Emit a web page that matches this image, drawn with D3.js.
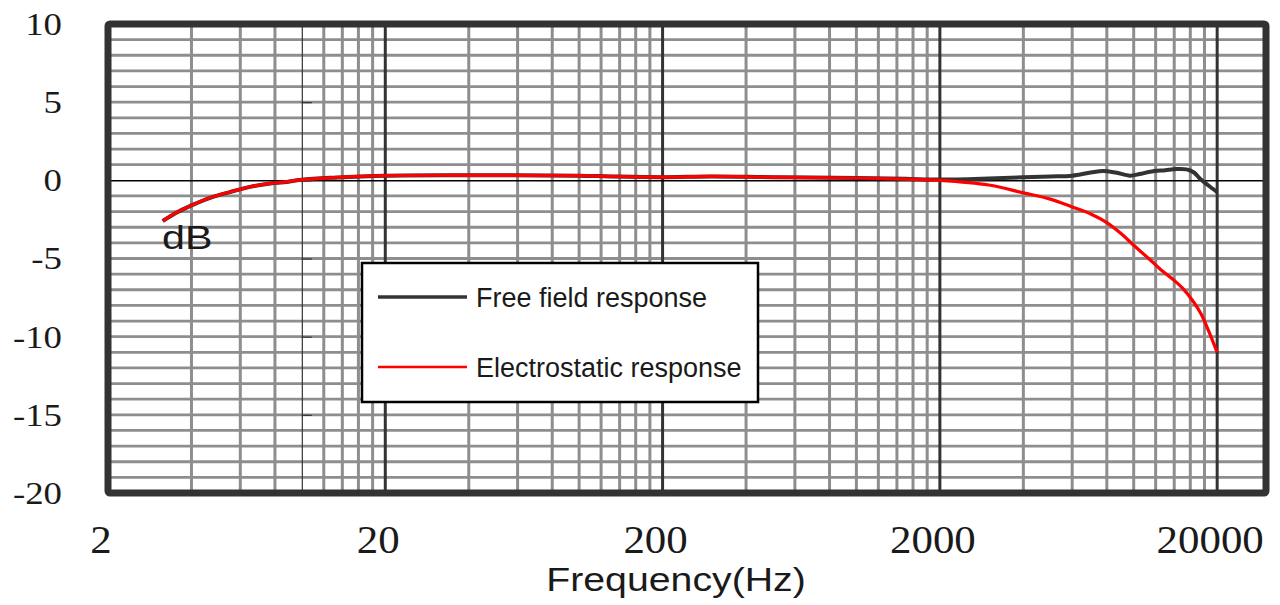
<!DOCTYPE html>
<html>
<head>
<meta charset="utf-8">
<script src="https://cdn.jsdelivr.net/npm/d3@7"></script>
<style>
  body { margin: 0; background: #fff; }
</style>
</head>
<body>
<div id="chart"></div>
<script>
// Values (frequency in Hz, level in dB)
const elecFreq = [3.15, 3.5, 4, 4.7, 5.5, 6.5, 7.7, 8.6, 10, 13, 20, 50, 100, 130, 200, 300, 500, 1000, 1500, 2000,
    3000, 4000, 5000, 6000, 7000, 8000, 9000, 10000, 11400, 12500, 14000, 15000, 16400, 17500, 18400, 20000];
const elecDb = [-2.6, -2.1, -1.6, -1.1, -0.75, -0.42, -0.2, -0.12, 0.04, 0.17, 0.3, 0.32, 0.3, 0.25, 0.2, 0.25, 0.2, 0.15, 0.08, 0,
    -0.3, -0.8, -1.2, -1.7, -2.15, -2.7, -3.4, -4.15, -5.05, -5.7, -6.4, -6.9, -7.75, -8.55, -9.4, -11.0];

const freeFreq = [3.15, 3.5, 4, 4.7, 5.5, 6.5, 7.7, 8.6, 10, 13, 20, 50, 100, 130, 200, 300, 500, 1000, 1500, 2000,
    3000, 4000, 5000, 6000, 7000, 7750, 8600, 9700, 10500, 11450, 13000, 14300, 15500, 16500, 17350, 18500, 20000];
const freeDb = [-2.6, -2.1, -1.6, -1.1, -0.75, -0.42, -0.2, -0.12, 0.04, 0.17, 0.3, 0.32, 0.3, 0.25, 0.2, 0.25, 0.2, 0.15, 0.1, 0.05,
    0.12, 0.2, 0.25, 0.3, 0.5, 0.6, 0.5, 0.3, 0.4, 0.55, 0.65, 0.72, 0.7, 0.5, 0.1, -0.3, -0.75];

const seriesNames = ["Free field response", "Electrostatic response"];
const seriesColors = ["#333333", "#ff0000"];
const xTicks = [2, 20, 200, 2000, 20000];
const yTicks = [10, 5, 0, -5, -10, -15, -20];
const decades = [2, 20, 200, 2000];

const width = 1280, height = 605;
const plot = {left: 108, right: 1266, top: 24, bottom: 493};

const svg = d3.select("#chart")
    .append("svg")
    .attr("width", width)
    .attr("height", height);

const x = d3.scaleLog().domain([2, 30000]).range([plot.left, plot.right]);
const y = d3.scaleLinear().domain([-20, 10]).range([plot.bottom, plot.top]);

// grey grid, 1 dB steps
const hGrid = d3.range(-19, 10).filter((d) => d !== 0);
svg.append("g")
    .selectAll("line")
    .data(hGrid)
    .join("line")
    .attr("x1", plot.left)
    .attr("x2", plot.right)
    .attr("y1", (d) => y(d))
    .attr("y2", (d) => y(d))
    .attr("stroke", "#8e8e8e")
    .attr("stroke-width", 2.8);

// minor verticals: 2*10^k * m
let vGrid = [];
decades.forEach((d) => {
    for (let m = 2; m <= 9; m++) vGrid.push(d * m);
});
vGrid = vGrid.filter((f) => f !== 10);
svg.append("g")
    .selectAll("line")
    .data(vGrid)
    .join("line")
    .attr("x1", (d) => x(d))
    .attr("x2", (d) => x(d))
    .attr("y1", plot.top)
    .attr("y2", plot.bottom)
    .attr("stroke", "#8e8e8e")
    .attr("stroke-width", 3);

// dark decade lines
svg.append("g")
    .selectAll("line")
    .data(xTicks.slice(1))
    .join("line")
    .attr("x1", (d) => x(d))
    .attr("x2", (d) => x(d))
    .attr("y1", plot.top)
    .attr("y2", plot.bottom)
    .attr("stroke", "#333")
    .attr("stroke-width", 3);

// thin axis line sitting at 10 Hz
svg.append("g")
    .attr("transform", `translate(${x(10)},0)`)
    .call(d3.axisRight(y).tickValues(yTicks).tickSize(10).tickFormat(""))
    .call((g) => g.selectAll("path, line").attr("stroke", "#333").attr("stroke-width", 1.2));

// zero line
svg.append("g")
    .attr("transform", `translate(0,${y(0)})`)
    .call(d3.axisBottom(x).tickValues([2]).tickSize(10).tickSizeOuter(0).tickFormat(""))
    .call((g) => g.selectAll("path, line").attr("stroke", "#000").attr("stroke-width", 1.5));

// curves
const line = d3.line()
    .x((d) => x(d[0]))
    .y((d) => y(d[1]))
    .curve(d3.curveCatmullRom);

const series = [
    d3.zip(freeFreq, freeDb),
    d3.zip(elecFreq, elecDb),
];

svg.append("path")
    .datum(series[0])
    .attr("d", line)
    .attr("fill", "none")
    .attr("stroke", seriesColors[0])
    .attr("stroke-width", 4);

svg.append("path")
    .datum(series[1])
    .attr("d", line)
    .attr("fill", "none")
    .attr("stroke", seriesColors[1])
    .attr("stroke-width", 3.2);

// frame
svg.append("rect")
    .attr("x", plot.left)
    .attr("y", plot.top)
    .attr("width", plot.right - plot.left)
    .attr("height", plot.bottom - plot.top)
    .attr("rx", 2)
    .attr("fill", "none")
    .attr("stroke", "#333")
    .attr("stroke-width", 7);

// y labels
svg.append("g")
    .selectAll("text")
    .data(yTicks)
    .join("text")
    .attr("transform", (d) => `translate(62,${y(d)}) scale(1.15,1)`)
    .attr("dy", "0.34em")
    .attr("text-anchor", "end")
    .style("font-family", "'Liberation Serif', 'Times New Roman', serif")
    .style("font-size", "32px")
    .attr("fill", "#1a1a1a")
    .text((d) => d);

// x labels
svg.append("g")
    .selectAll("text")
    .data(xTicks)
    .join("text")
    .attr("transform", (d) => `translate(${x(d) - 7},553) scale(1.1,1)`)
    .attr("text-anchor", "middle")
    .style("font-family", "'Liberation Serif', 'Times New Roman', serif")
    .style("font-size", "39px")
    .attr("fill", "#1a1a1a")
    .text((d) => d);

svg.append("text")
    .attr("transform", "translate(676,591) scale(1.19,1)")
    .attr("text-anchor", "middle")
    .style("font-family", "'Liberation Sans', Arial, sans-serif")
    .style("font-size", "33px")
    .attr("fill", "#1a1a1a")
    .text("Frequency(Hz)");

svg.append("text")
    .attr("transform", "translate(162,249) scale(1.25,1)")
    .style("font-family", "'Liberation Sans', Arial, sans-serif")
    .style("font-size", "33px")
    .attr("fill", "#1a1a1a")
    .text("dB");

// legend
const legend = svg.append("g").attr("transform", "translate(362,263)");
legend.append("rect")
    .attr("width", 396)
    .attr("height", 139)
    .attr("fill", "#fff")
    .attr("stroke", "#000")
    .attr("stroke-width", 2.5);

const rows = legend.selectAll(".row")
    .data(seriesNames)
    .join("g")
    .attr("class", "row")
    .attr("transform", (d, i) => `translate(0,${34 + i * 70})`);
rows.append("line")
    .attr("x1", 16)
    .attr("x2", 105)
    .attr("stroke", (d, i) => seriesColors[i])
    .attr("stroke-width", (d, i) => (i === 0 ? 3.5 : 2.5));
rows.append("text")
    .attr("x", 114)
    .attr("dy", "0.36em")
    .style("font-family", "'Liberation Sans', Arial, sans-serif")
    .style("font-size", "27px")
    .attr("fill", "#1a1a1a")
    .text((d) => d);
</script>
</body>
</html>
